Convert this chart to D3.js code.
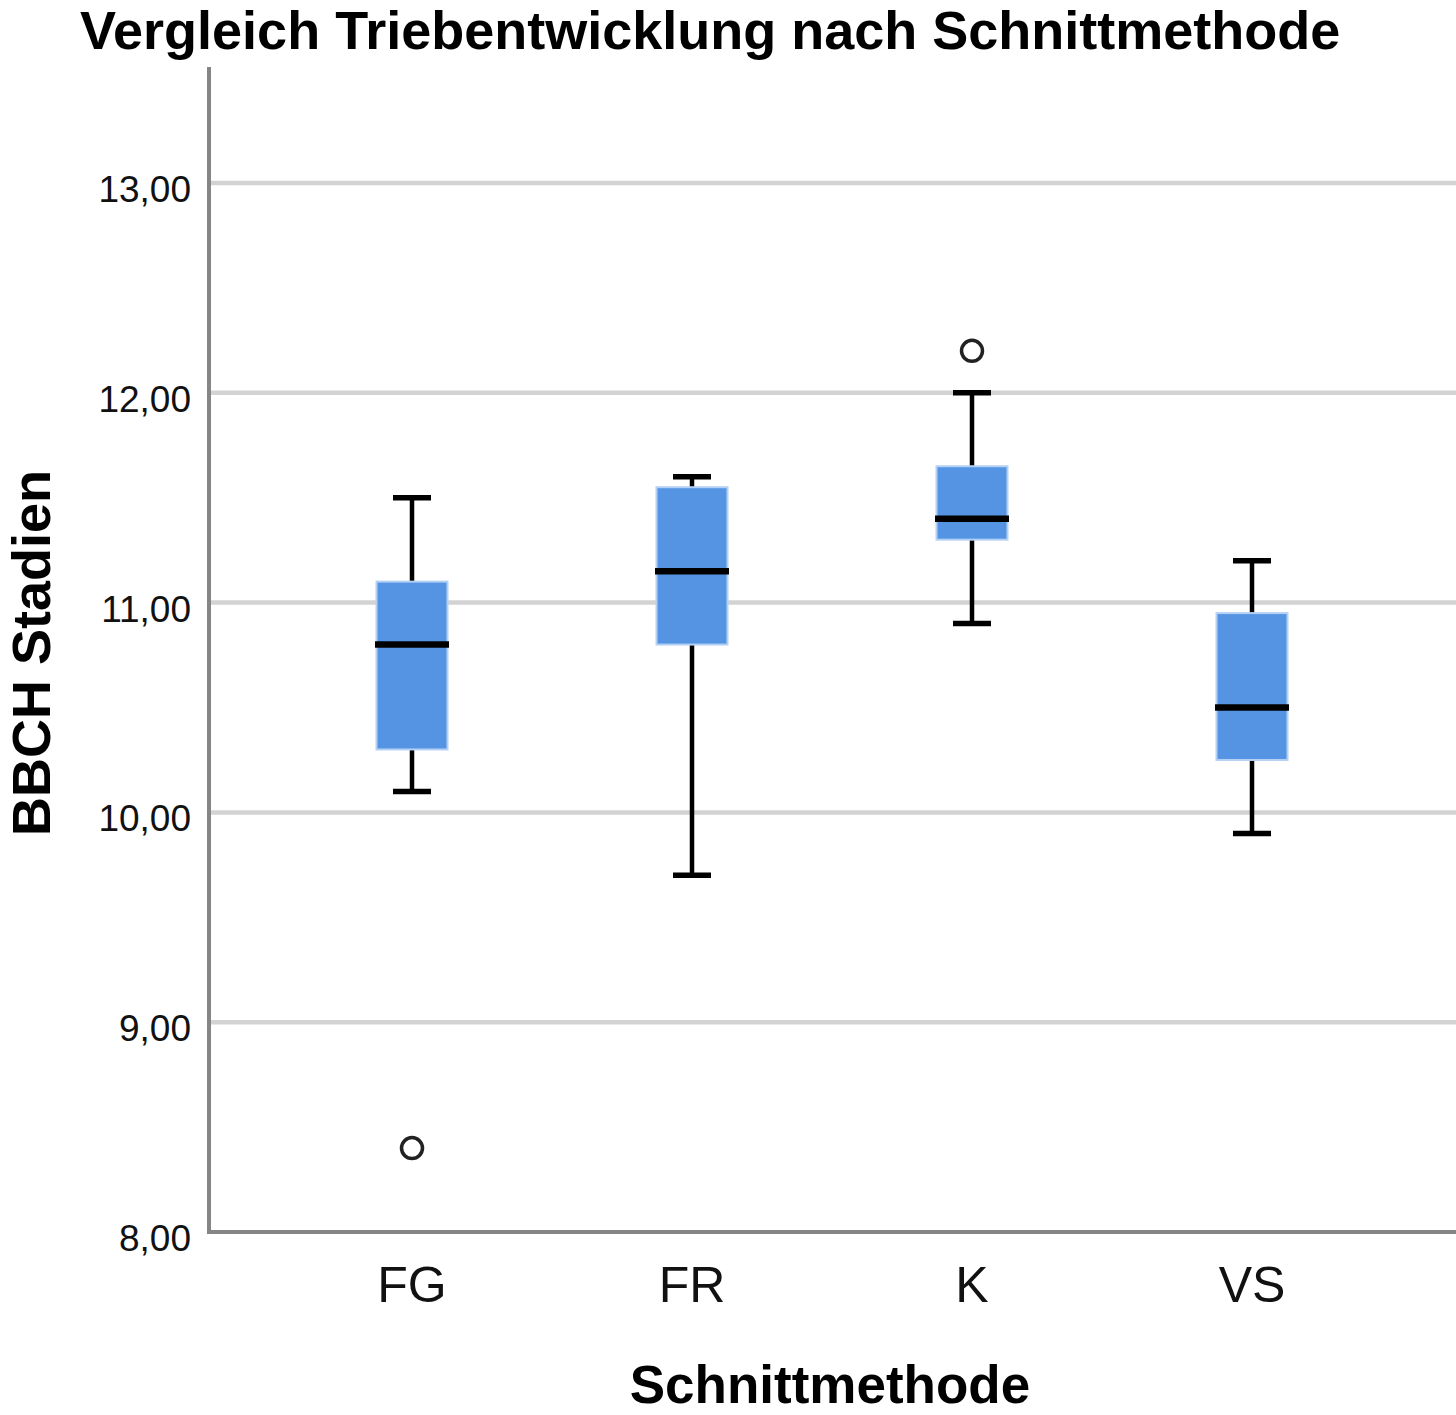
<!DOCTYPE html>
<html>
<head>
<meta charset="utf-8">
<script src="https://cdn.jsdelivr.net/npm/d3@7"></script>
<style>
  body { margin: 0; background: #fff; }
  svg { display: block; }
</style>
</head>
<body>
<svg id="chart" width="1456" height="1415"></svg>
<script>
'use strict';

// values
var categories = ['FG', 'FR', 'K', 'VS'];
var whiskerLow = [10.10, 9.70, 10.90, 9.90];
var q1 = [10.30, 10.80, 11.30, 10.25];
var median = [10.80, 11.15, 11.40, 10.50];
var q3 = [11.10, 11.55, 11.65, 10.95];
var whiskerHigh = [11.50, 11.60, 12.00, 11.20];
var outliers = [
  {cat: 'FG', value: 8.40},
  {cat: 'K', value: 12.20}
];
var yTicks = [8, 9, 10, 11, 12, 13];

var font = 'Liberation Sans, Arial, sans-serif';
var svg = d3.select('#chart');

var plotL = 209, plotR = 1456, plotT = 67, plotB = 1232;

var x = d3.scaleBand().domain(categories).range([272, 1392]);
var y = d3.scaleLinear().domain([8, 13.553]).range([plotB, plotT]);
var boxW = 71, capW = 38;

var fmt = function (d) { return d3.format('.2f')(d).replace('.', ','); };

// grid lines
svg.append('g').selectAll('line').data(yTicks.filter(function (d) { return d > 8; }))
  .enter().append('line')
  .attr('x1', plotL).attr('x2', plotR)
  .attr('y1', function (d) { return y(d); }).attr('y2', function (d) { return y(d); })
  .style('stroke', '#d3d3d3').style('stroke-width', 4.5);

// y axis
var yAxis = svg.append('g').attr('transform', 'translate(' + plotL + ',0)')
  .call(d3.axisLeft(y).tickValues(yTicks).tickFormat(fmt).tickSize(0).tickPadding(18));
yAxis.select('.domain').remove();
yAxis.selectAll('text')
  .style('font-family', font).style('font-size', '37px').style('fill', '#111')
  .attr('dy', '0.85em').attr('y', -13);

// x axis
var xAxis = svg.append('g').attr('transform', 'translate(0,' + plotB + ')')
  .call(d3.axisBottom(x).tickSize(0).tickPadding(0));
xAxis.select('.domain').remove();
xAxis.selectAll('text')
  .style('font-family', font).style('font-size', '50px').style('fill', '#111')
  .attr('dy', null).attr('y', 70);

// axis lines
svg.append('line').attr('x1', plotL).attr('x2', plotL).attr('y1', plotT).attr('y2', plotB + 2)
  .style('stroke', '#858585').style('stroke-width', 4);
svg.append('line').attr('x1', plotL - 2).attr('x2', plotR).attr('y1', plotB).attr('y2', plotB)
  .style('stroke', '#858585').style('stroke-width', 4);

var cx = function (i) { return x(categories[i]) + x.bandwidth() / 2; };

var boxes = svg.append('g').selectAll('g').data(categories).enter().append('g');

// whiskers
boxes.append('line')
  .attr('x1', function (d, i) { return cx(i); }).attr('x2', function (d, i) { return cx(i); })
  .attr('y1', function (d, i) { return y(whiskerLow[i]); })
  .attr('y2', function (d, i) { return y(whiskerHigh[i]); })
  .style('stroke', '#000').style('stroke-width', 4.5);

// caps
[whiskerLow, whiskerHigh].forEach(function (arr) {
  boxes.append('line')
    .attr('x1', function (d, i) { return cx(i) - capW / 2; })
    .attr('x2', function (d, i) { return cx(i) + capW / 2; })
    .attr('y1', function (d, i) { return y(arr[i]); })
    .attr('y2', function (d, i) { return y(arr[i]); })
    .style('stroke', '#000').style('stroke-width', 5.5);
});

// boxes
boxes.append('rect')
  .attr('x', function (d, i) { return cx(i) - boxW / 2; })
  .attr('width', boxW)
  .attr('y', function (d, i) { return y(q3[i]); })
  .attr('height', function (d, i) { return y(q1[i]) - y(q3[i]); })
  .style('fill', '#5494e3').style('stroke', '#b4d1f5').style('stroke-width', 2);

// medians
boxes.append('line')
  .attr('x1', function (d, i) { return cx(i) - boxW / 2 - 1.5; })
  .attr('x2', function (d, i) { return cx(i) + boxW / 2 + 1.5; })
  .attr('y1', function (d, i) { return y(median[i]); })
  .attr('y2', function (d, i) { return y(median[i]); })
  .style('stroke', '#000').style('stroke-width', 6.5);

// outliers
svg.append('g').selectAll('circle').data(outliers).enter().append('circle')
  .attr('cx', function (d) { return x(d.cat) + x.bandwidth() / 2; })
  .attr('cy', function (d) { return y(d.value); })
  .attr('r', 10.5)
  .style('fill', 'none').style('stroke', '#222').style('stroke-width', 3.5);

// titles
svg.append('text').attr('x', 80).attr('y', 49)
  .style('font-family', font).style('font-size', '54px').style('font-weight', 'bold')
  .text('Vergleich Triebentwicklung nach Schnittmethode');

svg.append('text').attr('x', 830).attr('y', 1403).attr('text-anchor', 'middle')
  .style('font-family', font).style('font-size', '53px').style('font-weight', 'bold')
  .text('Schnittmethode');

svg.append('text').attr('transform', 'translate(50,653) rotate(-90)').attr('text-anchor', 'middle')
  .style('font-family', font).style('font-size', '54px').style('font-weight', 'bold')
  .text('BBCH Stadien');
</script>
</body>
</html>
